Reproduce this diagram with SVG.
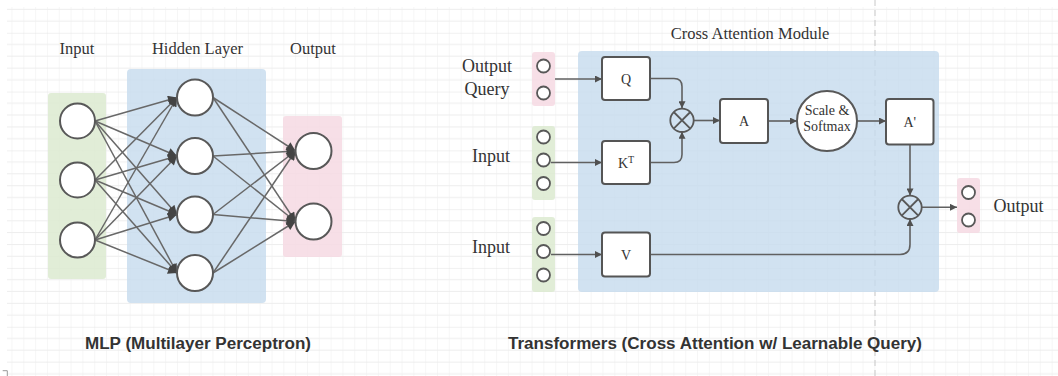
<svg xmlns="http://www.w3.org/2000/svg" width="1058" height="376" viewBox="0 0 1058 376">
<style>
.lbl{font-family:"Liberation Serif","Times New Roman",serif;fill:#333;text-anchor:middle}
.title{font-family:"Liberation Sans",Arial,sans-serif;font-weight:bold;font-size:16px;fill:#333;text-anchor:middle}
.node{fill:#fff;stroke:#585858;stroke-width:2}
.sm{fill:#fff;stroke:#585858;stroke-width:1.8}
.box{fill:#fff;stroke:#555;stroke-width:2}
.edge{fill:none;stroke:#686868;stroke-width:1.5}
.conn{fill:none;stroke:#606060;stroke-width:1.6}
.blue{fill:#c5dbee;fill-opacity:0.8}
.green{fill:#dcead0;fill-opacity:0.85}
.pink{fill:#f6d9e3;fill-opacity:0.85}
.ox{fill:none;stroke:#585858;stroke-width:1.8}
</style>
<defs>
<pattern id="grid" patternUnits="userSpaceOnUse" x="-0.34" y="-26.04" width="11.82" height="58.8">
<path d="M0,0V58.8" stroke="#ededed" stroke-width="1"/>
<path d="M0,11.76H11.82M0,23.52H11.82M0,35.28H11.82M0,47.04H11.82" stroke="#ededed" stroke-width="1"/>
<path d="M0,0H11.82" stroke="#e2e2e2" stroke-width="1"/>
</pattern>
<marker id="ah" viewBox="0 0 10 10" refX="10" refY="5" markerUnits="userSpaceOnUse" markerWidth="11" markerHeight="9" orient="auto">
<path d="M0,0L10,5L0,10z" fill="#444"/>
</marker>
<marker id="as" viewBox="0 0 10 10" refX="10" refY="5" markerUnits="userSpaceOnUse" markerWidth="9" markerHeight="7" orient="auto">
<path d="M0,0L10,5L0,10z" fill="#505050"/>
</marker>
</defs>
<rect x="0" y="0" width="1058" height="376" fill="#fff"/>
<rect x="7" y="7" width="1051" height="369" fill="url(#grid)"/>
<path d="M875,0V376" stroke="#c8c8c8" stroke-width="1" stroke-dasharray="6 4" fill="none"/>
<path d="M2.7,370.7H7.3V376" stroke="#999" stroke-width="1" fill="none"/>

<!-- MLP backgrounds -->
<rect id="mlp-input-bg" class="green" x="48" y="93" width="58" height="186" rx="3"/>
<rect id="mlp-hidden-bg" class="blue" x="127" y="69" width="139" height="234" rx="4"/>
<rect id="mlp-output-bg" class="pink" x="283" y="116" width="59" height="141" rx="3"/>

<!-- Cross attention backgrounds -->
<rect id="ca-module-bg" class="blue" x="578" y="51" width="361" height="241" rx="4"/>
<rect id="ca-query-bg" class="pink" x="532" y="52" width="23" height="54" rx="3"/>
<rect id="ca-input1-bg" class="green" x="532" y="126" width="23" height="74" rx="3"/>
<rect id="ca-input2-bg" class="green" x="532" y="217" width="23" height="75" rx="3"/>
<rect id="ca-output-bg" class="pink" x="957" y="178" width="23" height="55" rx="3"/>

<!-- connectors -->
<g id="connectors">
<g id="mlp-edges" class="edge" marker-end="url(#ah)">
<path d="M95,121L177,97.5"/><path d="M95,121L177,156"/><path d="M95,121L177,214.5"/><path d="M95,121L177,273"/>
<path d="M95,180L177,97.5"/><path d="M95,180L177,156"/><path d="M95,180L177,214.5"/><path d="M95,180L177,273"/>
<path d="M95,240L177,97.5"/><path d="M95,240L177,156"/><path d="M95,240L177,214.5"/><path d="M95,240L177,273"/>
<path d="M213,97.5L295.5,151"/><path d="M213,97.5L295.5,221.5"/>
<path d="M213,156L295.5,151"/><path d="M213,156L295.5,221.5"/>
<path d="M213,214.5L295.5,151"/><path d="M213,214.5L295.5,221.5"/>
<path d="M213,273L295.5,151"/><path d="M213,273L295.5,221.5"/>
</g>
<g id="ca-edges" class="conn" marker-end="url(#as)">
<path d="M555,79H602"/>
<path d="M551,162.5H602"/>
<path d="M551,254.5H602"/>
<path d="M650,78.5H674Q682,78.5 682,86.5V108.3"/>
<path d="M650,162.5H674Q682,162.5 682,154.5V131.7"/>
<path d="M693.7,120.5H720"/>
<path d="M768,121H797"/>
<path d="M857,121H886"/>
<path d="M910,144V195.6"/>
<path d="M650,254.5H900Q910,254.5 910,244.5V219"/>
<path d="M921.7,207.3H957"/>
</g>
</g>

<!-- MLP nodes -->
<g id="mlp-in-1"><circle class="node" cx="77.5" cy="121" r="17.5"/></g>
<g id="mlp-in-2"><circle class="node" cx="77.5" cy="180" r="17.5"/></g>
<g id="mlp-in-3"><circle class="node" cx="77.5" cy="240" r="17.5"/></g>
<g id="mlp-h-1"><circle class="node" cx="195" cy="97.5" r="18"/></g>
<g id="mlp-h-2"><circle class="node" cx="195" cy="156" r="18"/></g>
<g id="mlp-h-3"><circle class="node" cx="195" cy="214.5" r="18"/></g>
<g id="mlp-h-4"><circle class="node" cx="195" cy="273" r="18"/></g>
<g id="mlp-out-1"><circle class="node" cx="313.5" cy="151" r="18"/></g>
<g id="mlp-out-2"><circle class="node" cx="313.5" cy="221.5" r="18"/></g>

<!-- MLP labels -->
<text class="lbl" x="77" y="54" font-size="16.5">Input</text>
<text class="lbl" x="197.5" y="54" font-size="16.5">Hidden Layer</text>
<text class="lbl" x="313" y="54" font-size="16.5">Output</text>
<text class="title" x="198" y="348.5" textLength="226" lengthAdjust="spacingAndGlyphs">MLP (Multilayer Perceptron)</text>

<!-- Cross attention -->
<text class="lbl" x="750" y="39" font-size="16.5">Cross Attention Module</text>
<text class="lbl" x="487" y="72" font-size="18">Output</text>
<text class="lbl" x="487" y="95" font-size="18">Query</text>
<text class="lbl" x="491" y="161.5" font-size="18">Input</text>
<text class="lbl" x="491" y="253" font-size="18">Input</text>
<text class="lbl" x="1018.5" y="212" font-size="18">Output</text>

<g id="query-circles"><circle class="sm" cx="543.5" cy="66" r="6.5"/><circle class="sm" cx="543.5" cy="93" r="6.5"/></g>
<g id="input1-circles"><circle class="sm" cx="543.5" cy="137" r="6.5"/><circle class="sm" cx="543.5" cy="160" r="6.5"/><circle class="sm" cx="543.5" cy="183.5" r="6.5"/></g>
<g id="input2-circles"><circle class="sm" cx="543.5" cy="228.5" r="6.5"/><circle class="sm" cx="543.5" cy="251.5" r="6.5"/><circle class="sm" cx="543.5" cy="275" r="6.5"/></g>
<g id="output-circles"><circle class="sm" cx="968.5" cy="192.5" r="6.5"/><circle class="sm" cx="968.5" cy="220" r="6.5"/></g>

<g id="box-q"><rect class="box" x="602" y="57" width="48" height="43" rx="3"/><text class="lbl" x="626" y="83.5" font-size="14">Q</text></g>
<g id="box-k"><rect class="box" x="602" y="141" width="48" height="43" rx="3"/><text class="lbl" x="626" y="167.5" font-size="14">K<tspan font-size="10" dy="-5">T</tspan></text></g>
<g id="box-v"><rect class="box" x="602" y="232.5" width="48" height="44" rx="3"/><text class="lbl" x="626" y="259.5" font-size="14">V</text></g>
<g id="otimes-1"><circle class="ox" cx="682" cy="120.3" r="11.7"/><path class="ox" d="M673.7,112L690.3,128.6M690.3,112L673.7,128.6"/></g>
<g id="box-a"><rect class="box" x="720" y="99" width="48" height="44" rx="3"/><text class="lbl" x="744" y="126" font-size="14">A</text></g>
<g id="scale-softmax"><circle class="node" cx="827" cy="121" r="30"/><text class="lbl" x="827" y="115" font-size="14">Scale &amp;</text><text class="lbl" x="827" y="131" font-size="14">Softmax</text></g>
<g id="box-a2"><rect class="box" x="886" y="99" width="47.5" height="45.5" rx="3"/><text class="lbl" x="909.7" y="127" font-size="14">A'</text></g>
<g id="otimes-2"><circle class="ox" cx="910" cy="207.3" r="11.7"/><path class="ox" d="M901.7,199L918.3,215.6M918.3,199L901.7,215.6"/></g>

<text class="title" x="715" y="348.5" textLength="414" lengthAdjust="spacingAndGlyphs">Transformers (Cross Attention w/ Learnable Query)</text>
</svg>
